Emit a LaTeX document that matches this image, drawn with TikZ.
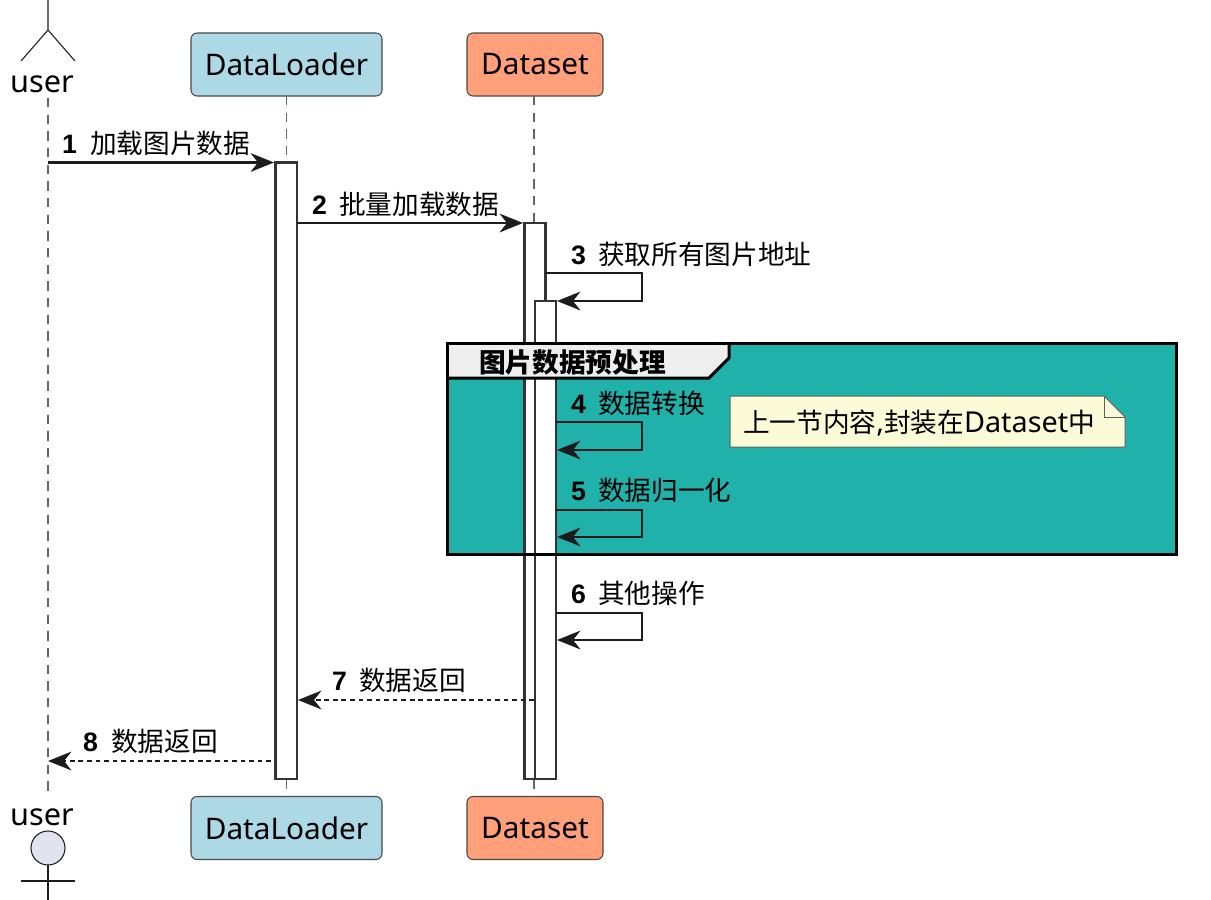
\documentclass[tikz,border=0pt]{standalone}
\usepackage{fontspec}
\setmainfont{Noto Sans}
\newfontfamily\cjk{Noto Sans CJK SC}
\newfontfamily\numf{Liberation Sans}
\usetikzlibrary{arrows.meta}
\newdimen\pxu \pxu=0.75pt
\definecolor{ink}{HTML}{1C1C1C}
\definecolor{life}{HTML}{666666}
\definecolor{teal}{HTML}{20B2AA}
\definecolor{lblue}{HTML}{ADD8E6}
\definecolor{salmon}{HTML}{FFA07A}
\definecolor{notefill}{HTML}{FBFBD8}
\definecolor{tabfill}{HTML}{EEEEEE}
\definecolor{headfill}{HTML}{E2E2F0}
\tikzset{
  x=0.75pt,y=-0.75pt,
  every node/.style={inner sep=0pt,outer sep=0pt},
  part/.style={draw=ink!80,line width=0.8pt,rounded corners=4.5pt,text=black,minimum height=63\pxu,font=\fontsize{22.3}{24}\selectfont},
  lifeline/.style={draw=life,line width=0.9pt,dash pattern=on 7pt off 5.5pt},
  actorline/.style={draw=ink,line width=0.8pt},
  bar/.style={draw=ink!90,fill=white,line width=1.9pt,anchor=north west},
  msg/.style={draw=ink,line width=1.8pt,-{Stealth[length=17.5pt,width=14pt,inset=5.5pt]}},
  retmsg/.style={msg,dash pattern=on 3.6pt off 2.8pt,-{Stealth[length=17.5pt,width=14pt,inset=5.5pt,sep=0pt]}},
  lab/.style={anchor=base west,font=\fontsize{20}{24}\selectfont,text=black},
  num/.style={anchor=base west,font=\fontsize{20}{24}\selectfont\numf\bfseries,text=black},
  actorlab/.style={anchor=base,font=\fontsize{23}{24}\selectfont,text=black},
}
\begin{document}
\begin{tikzpicture}
\useasboundingbox (0,0) rectangle (1211,900);
\fill[white] (0,0) rectangle (1211,900);

% participants
\node[part,fill=lblue,minimum width=191\pxu] (dlT) at (286.5,64.5) {DataLoader};
\node[part,fill=salmon,minimum width=136\pxu] (dsT) at (535,64.5) {Dataset};
\node[part,fill=lblue,minimum width=191\pxu] (dlB) at (286.5,828) {DataLoader};
\node[part,fill=salmon,minimum width=136\pxu] (dsB) at (535,828) {Dataset};

% actors
\coordinate (uTop) at (48,0);
\coordinate (uHip) at (48,30);
\coordinate (uLegL) at (21,61);
\coordinate (uLegR) at (75,61);
\draw[actorline] (uTop) -- (uHip) (uLegL) -- (uHip) -- (uLegR);
\node[actorlab] (uT) at (42,92) {user};
\node[actorlab] (uB) at (42,825) {user};
\node[draw=ink,fill=headfill,line width=0.8pt,circle,minimum size=34\pxu] (uHead) at (48,848) {};
\coordinate (uEnd) at (48,900);
\coordinate (uArmL) at (21,881);
\coordinate (uArmR) at (75,881);
\draw[actorline] (uHead.south) -- (uEnd) (uArmL) -- (uArmR);

% lifelines
\coordinate (uLifeT) at (48,98);
\coordinate (uLifeB) at (48,794);
\draw[lifeline] (uLifeT) -- (uLifeB);
\draw[lifeline] (dlT.south) -- (dlB.north);
\coordinate (dsLifeT) at (534,96);
\coordinate (dsLifeB) at (534,796);
\draw[lifeline] (dsLifeT) -- (dsLifeB);

% group background
\coordinate (gTL) at (447,343);
\coordinate (gBR) at (1176,554);
\fill[teal] (gTL) rectangle (gBR);

% activations
\node[bar,minimum width=21.5\pxu,minimum height=616.5\pxu] (barDL) at (275.5,162.5) {};
\node[bar,minimum width=21\pxu,minimum height=556\pxu] (barDS) at (524.5,223) {};
\node[bar,minimum width=21\pxu,minimum height=478\pxu] (barDSb) at (535,301) {};

% group tab and frame
\coordinate (tA) at (729,343);
\coordinate (tB) at (729,358);
\coordinate (tC) at (709,378);
\coordinate (tD) at (447,378);
\fill[tabfill] (gTL) -- (tA) -- (tB) -- (tC) -- (tD) -- cycle;
\draw[black,line width=2.25pt] (tA) -- (tB) -- (tC) -- (tD);
\draw[black,line width=2.25pt] (gTL) rectangle (gBR);
\node[lab,font=\fontsize{20}{24}\selectfont\cjk\bfseries] (gTitle) at (479,372) {图片数据预处理};

% note
\coordinate (nA) at (730,396);
\coordinate (nB) at (1104,396);
\coordinate (nC) at (1125,417);
\coordinate (nD) at (1125,447);
\coordinate (nE) at (730,447);
\coordinate (nF) at (1104,417);
\draw[ink!70,fill=notefill,line width=0.75pt] (nA) -- (nB) -- (nC) -- (nD) -- (nE) -- cycle;
\draw[ink!70,line width=0.75pt] (nB) -- (nF) -- (nC);
\node[lab,font=\fontsize{21.6}{24}\selectfont] (nText) at (743,432) {{\fontsize{20}{24}\selectfont\cjk 上一节内容},{\fontsize{20}{24}\selectfont\cjk 封装在}Dataset{\fontsize{20}{24}\selectfont\cjk 中}};

% message 1
\coordinate (m1a) at (48,162.5);
\coordinate (m1b) at (274,162.5);
\draw[msg] (m1a) -- (m1b);
\node[num] (n1) at (62,153) {1};
\node[lab] (t1) at (90,153) {\cjk 加载图片数据};
% message 2
\coordinate (m2a) at (297,223);
\coordinate (m2b) at (523,223);
\draw[msg] (m2a) -- (m2b);
\node[num] (n2) at (312,214) {2};
\node[lab] (t2) at (339,214) {\cjk 批量加载数据};
% message 3
\coordinate (m3a) at (545,273);
\coordinate (m3b) at (642,273);
\coordinate (m3c) at (642,301);
\coordinate (m3d) at (557,301);
\draw[msg] (m3a) -- (m3b) -- (m3c) -- (m3d);
\node[num] (n3) at (571,264) {3};
\node[lab] (t3) at (598,264) {\cjk 获取所有图片地址};
% message 4
\coordinate (m4a) at (556,422);
\coordinate (m4b) at (642,422);
\coordinate (m4c) at (642,450);
\coordinate (m4d) at (557,450);
\draw[msg] (m4a) -- (m4b) -- (m4c) -- (m4d);
\node[num] (n4) at (571,413) {4};
\node[lab] (t4) at (598,413) {\cjk 数据转换};
% message 5
\coordinate (m5a) at (556,510);
\coordinate (m5b) at (642,510);
\coordinate (m5c) at (642,537);
\coordinate (m5d) at (557,537);
\draw[msg] (m5a) -- (m5b) -- (m5c) -- (m5d);
\node[num] (n5) at (571,500) {5};
\node[lab] (t5) at (598,500) {\cjk 数据归一化};
% message 6
\coordinate (m6a) at (556,613);
\coordinate (m6b) at (642,613);
\coordinate (m6c) at (642,640);
\coordinate (m6d) at (557,640);
\draw[msg] (m6a) -- (m6b) -- (m6c) -- (m6d);
\node[num] (n6) at (571,603) {6};
\node[lab] (t6) at (598,603) {\cjk 其他操作};
% message 7
\coordinate (m7a) at (534,700);
\coordinate (m7b) at (298,700);
\draw[retmsg] (m7a) -- (m7b);
\node[num] (n7) at (332,690) {7};
\node[lab] (t7) at (359,690) {\cjk 数据返回};
% message 8
\coordinate (m8a) at (271,761);
\coordinate (m8b) at (48,761);
\draw[retmsg] (m8a) -- (m8b);
\node[num] (n8) at (83,751) {8};
\node[lab] (t8) at (111,751) {\cjk 数据返回};
\end{tikzpicture}
\end{document}
